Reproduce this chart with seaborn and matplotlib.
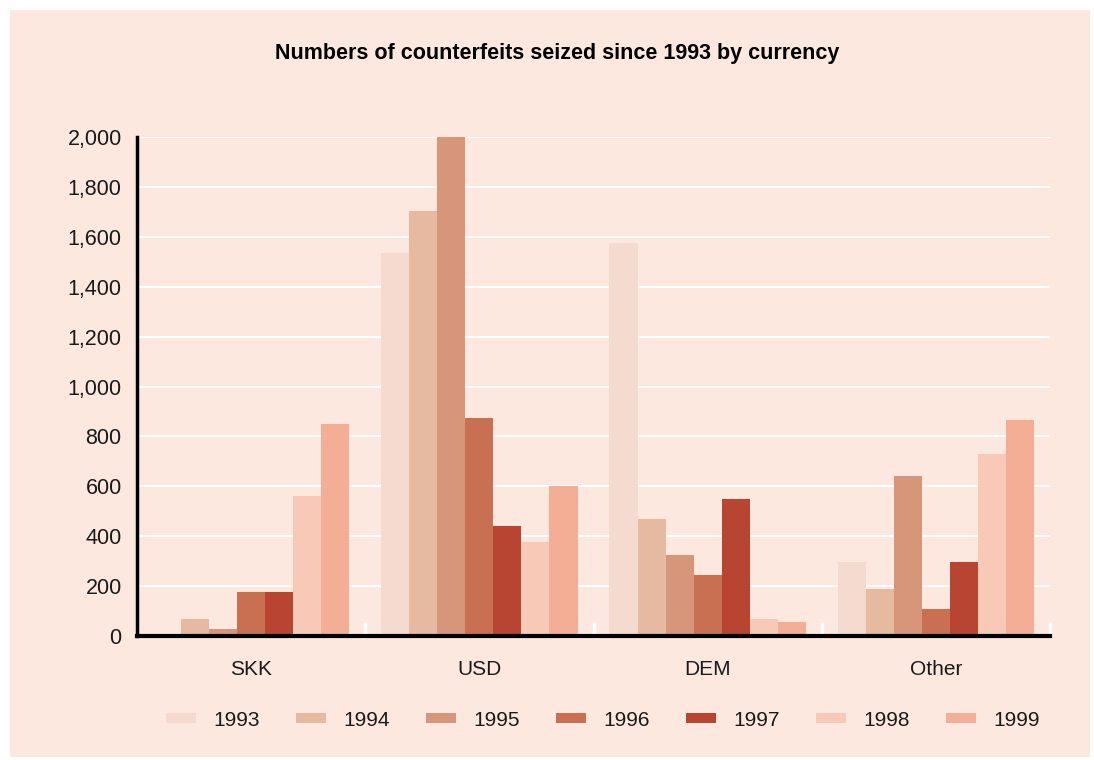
import pandas as pd
import seaborn as sns
import matplotlib.pyplot as plt
from matplotlib.patches import Rectangle
from matplotlib.ticker import FuncFormatter

# Data
currencies = ["SKK", "USD", "DEM", "Other"]
years = ["1993", "1994", "1995", "1996", "1997", "1998", "1999"]
skk = [0, 70, 30, 175, 175, 560, 850]
usd = [1535, 1705, 2000, 875, 440, 375, 600]
dem = [1575, 470, 325, 245, 550, 70, 55]
other = [295, 190, 640, 110, 295, 730, 865]
colors = ["#f5dbcf", "#e6b9a1", "#d79679", "#c96f52", "#b84432", "#f9c9b7", "#f5ae96"]

rows = []
for cur, vals in zip(currencies, [skk, usd, dem, other]):
    for yr, v in zip(years, vals):
        rows.append({"currency": cur, "year": yr, "count": v})
df = pd.DataFrame(rows)

bg = "#fde8df"
fig = plt.figure(figsize=(10.94, 7.6), dpi=100, facecolor="white")
fig.patches.append(Rectangle((10 / 1094, 3 / 760), 1080 / 1094, 747 / 760,
                             transform=fig.transFigure, facecolor=bg,
                             edgecolor="none", zorder=-10))
ax = fig.add_axes([137 / 1094, 1 - 636 / 760, 913 / 1094, 499 / 760])
ax.set_facecolor(bg)

sns.barplot(data=df, x="currency", y="count", hue="year", palette=colors,
            width=0.86, saturation=1, linewidth=0, ax=ax)

ax.set_ylim(0, 2000)
ax.set_xlim(-0.5, 3.5)
ax.set_yticks(range(0, 2001, 200))
ax.yaxis.set_major_formatter(FuncFormatter(lambda v, p: f"{int(v):,}"))
ax.grid(axis="y", color="white", linewidth=1.5)
ax.set_axisbelow(True)
ax.set_xlabel("")
ax.set_ylabel("")

for s in ["top", "right"]:
    ax.spines[s].set_visible(False)
ax.spines["left"].set_linewidth(2.5)
ax.spines["bottom"].set_linewidth(3)
ax.spines["left"].set_color("black")
ax.spines["bottom"].set_color("black")

ax.tick_params(axis="y", length=0, pad=11, labelsize=15.5, labelcolor="#1a1a1a")
ax.tick_params(axis="x", length=0, pad=17, labelsize=15, labelcolor="#1a1a1a")
ax.set_xticks([0.5, 1.5, 2.5, 3.5], minor=True)
ax.tick_params(axis="x", which="minor", direction="in", length=10, width=2.5,
               color="white")
for lab in ax.get_xticklabels() + ax.get_yticklabels():
    lab.set_fontfamily("Liberation Sans")

fig.text(0.509, 1 - 53 / 760, "Numbers of counterfeits seized since 1993 by currency",
         ha="center", va="center", fontsize=15.5, fontweight="heavy",
         family="Liberation Sans")

handles, labels = ax.get_legend_handles_labels()
ax.legend(handles, labels, loc="center", bbox_to_anchor=(0.551, 1 - 720 / 760),
          bbox_transform=fig.transFigure, ncol=7, frameon=False,
          handlelength=1.44, handleheight=0.38, handletextpad=0.82,
          columnspacing=1.75, labelcolor="#1a1a1a",
          prop={"family": "Liberation Sans", "size": 15})

fig.savefig("out.png", dpi=100, facecolor="white")
